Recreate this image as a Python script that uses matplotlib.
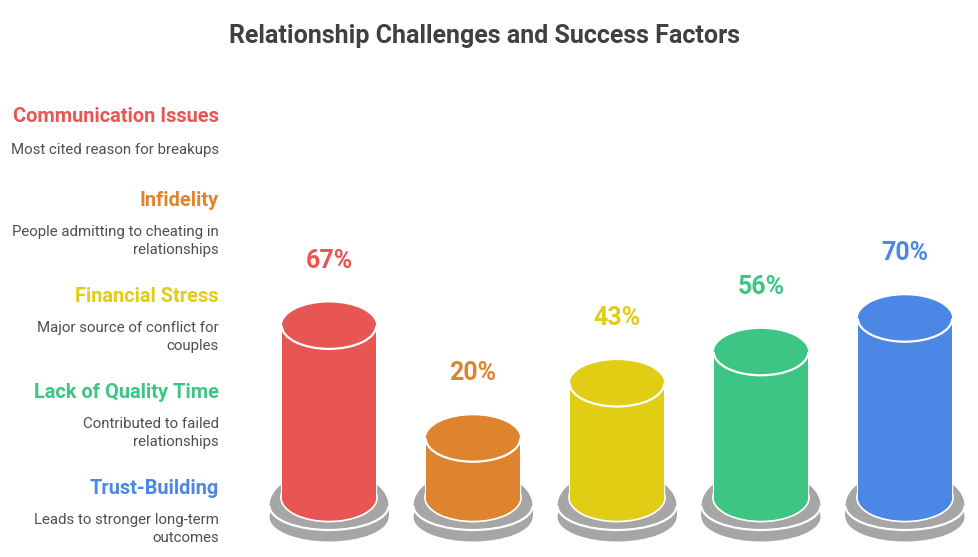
import matplotlib
matplotlib.use("Agg")
import matplotlib.pyplot as plt
from matplotlib.patches import Arc, Ellipse, Rectangle

plt.rcParams['font.family'] = ['Roboto', 'DejaVu Sans']

W, H = 979, 557

title = "Relationship Challenges and Success Factors"
names = ["Communication Issues", "Infidelity", "Financial Stress",
         "Lack of Quality Time", "Trust-Building"]
notes = ["Most cited reason for breakups",
         "People admitting to cheating in\nrelationships",
         "Major source of conflict for\ncouples",
         "Contributed to failed\nrelationships",
         "Leads to stronger long-term\noutcomes"]
values = [67, 20, 43, 56, 70]
colors = ["#E85654", "#DF842E", "#E1CD14", "#3CC583", "#4D87E6"]
name_y = [116, 200, 296, 392, 488]
note_y = [150, 232, 328, 424, 520]

GRAY = "#A6A6A6"
TEXT = "#505050"


def x_px(px):
    return (px - 329) / 144


def y_px(py):
    return (486.5 - py) / 2.4


fig = plt.figure(figsize=(W / 100, H / 100), dpi=100)
ax = fig.add_axes([0, 0, 1, 1])
ax.set_xlim(x_px(0), x_px(W))
ax.set_ylim(y_px(H), y_px(0))
ax.axis("off")

# overlay in pixels for the text blocks
tx = fig.add_axes([0, 0, 1, 1])
tx.set_xlim(0, W)
tx.set_ylim(H, 0)
tx.axis("off")
tx.patch.set_alpha(0)

half_w = 47.2 / 144
ry = 23.2 / 2.4
base_w = 59.5 / 144
floor = y_px(497.5)
plate_y = y_px(506)
lower_y = y_px(517)

for i, (v, c) in enumerate(zip(values, colors)):
    # grey plate: lower rim, then the upper half, then the white line between
    ax.add_patch(Ellipse((i, lower_y), 2 * base_w, 49 / 2.4, fc=GRAY, ec="none", zorder=1))
    ax.add_patch(Rectangle((i - base_w, lower_y), 2 * base_w, 11 / 2.4, fc=GRAY, ec="none", zorder=1))
    upper = Ellipse((i, plate_y), 2 * base_w, 72 / 2.4, fc=GRAY, ec="none", zorder=1)
    ax.add_patch(upper)
    upper.set_clip_path(Rectangle((i - 1, plate_y), 2, 40, transform=ax.transData))
    ax.add_patch(Arc((i, plate_y), 2 * base_w, 48 / 2.4, theta1=180, theta2=360,
                     color="white", lw=1.6, zorder=2))
    # cylinder body with white outline
    ax.add_patch(Ellipse((i, floor), 2 * half_w, 2 * ry, fc=c, ec="white", lw=2.5, zorder=3))
    ax.plot([i - half_w, i - half_w], [floor, v], color="white", lw=1.5, zorder=3)
    ax.plot([i + half_w, i + half_w], [floor, v], color="white", lw=1.5, zorder=3)
    ax.add_patch(Rectangle((i - half_w, floor), 2 * half_w, v - floor, fc=c, ec="none", zorder=4))
    ax.add_patch(Ellipse((i, floor), 2 * half_w, 2 * ry, fc=c, ec="none", zorder=5))
    # top face, white only along the front edge
    ax.add_patch(Ellipse((i, v), 2 * half_w, 2 * ry, fc=c, ec="none", zorder=6))
    ax.add_patch(Arc((i, v), 2 * half_w, 2 * ry, theta1=180, theta2=360,
                     color="white", lw=1.6, zorder=7))
    ax.text(i, v + 65 / 2.4, f"{v}%", color=c, fontsize=18, fontweight="bold",
            ha="center", va="center", zorder=8)

for name, note, c, ny, my in zip(names, notes, colors, name_y, note_y):
    tx.text(219, ny, name, color=c, fontsize=14.4, fontweight="bold", ha="right", va="center")
    first = my if "\n" not in note else my + 9
    tx.text(219, first, note, color=TEXT, fontsize=10.8, ha="right", va="center", linespacing=1.42)

tx.text(485, 36.5, title, color="#404040", fontsize=18, fontweight="bold", ha="center", va="center")

fig.savefig("out.png", dpi=100)
